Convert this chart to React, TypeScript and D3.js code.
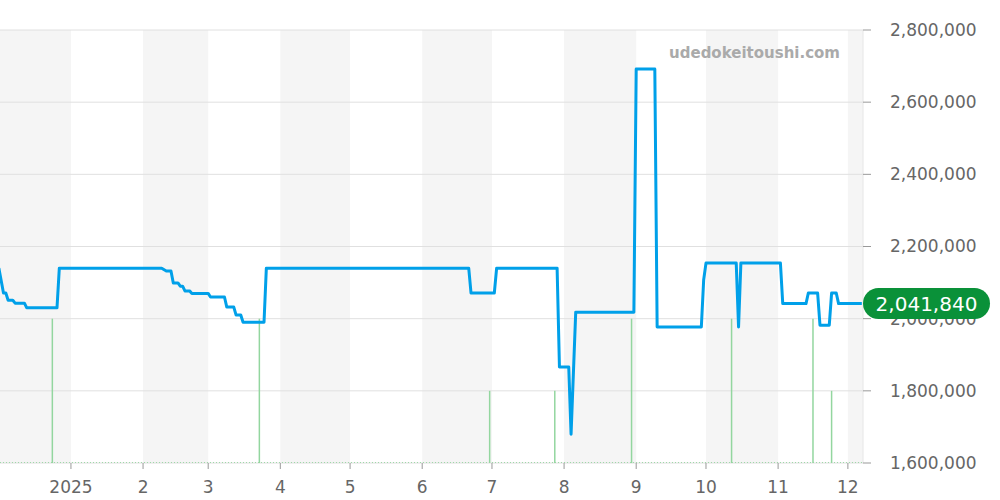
import React from 'react';
import * as d3 from 'd3';

// price history (date, yen)
const priceDates = [
  '2024-12-01', '2024-12-03', '2024-12-04', '2024-12-05', '2024-12-07', '2024-12-08',
  '2024-12-12', '2024-12-13', '2024-12-26', '2024-12-27', '2025-02-09', '2025-02-11',
  '2025-02-13', '2025-02-14', '2025-02-16', '2025-02-17', '2025-02-18', '2025-02-19',
  '2025-02-21', '2025-02-22', '2025-03-01', '2025-03-02', '2025-03-08', '2025-03-09',
  '2025-03-12', '2025-03-13', '2025-03-15', '2025-03-16', '2025-03-25', '2025-03-26',
  '2025-06-21', '2025-06-22', '2025-07-02', '2025-07-03', '2025-07-29', '2025-07-30',
  '2025-08-03', '2025-08-04', '2025-08-06', '2025-08-31', '2025-09-01', '2025-09-09',
  '2025-09-10', '2025-09-29', '2025-09-30', '2025-10-01', '2025-10-14', '2025-10-15',
  '2025-10-16', '2025-11-02', '2025-11-03', '2025-11-13', '2025-11-14', '2025-11-18',
  '2025-11-19', '2025-11-23', '2025-11-24', '2025-11-26', '2025-11-27', '2025-12-07',
];
const priceValues = [
  2140000, 2071000, 2071000, 2051000, 2051000, 2043000,
  2043000, 2030000, 2030000, 2140000, 2140000, 2132000,
  2132000, 2099000, 2099000, 2090000, 2090000, 2077000,
  2077000, 2070000, 2070000, 2060000, 2060000, 2032000,
  2032000, 2010000, 2010000, 1990000, 1990000, 2140000,
  2140000, 2071000, 2071000, 2140000, 2140000, 1866000,
  1866000, 1680000, 2018000, 2018000, 2692000, 2692000,
  1977000, 1977000, 2107000, 2154000, 2154000, 1977000,
  2154000, 2154000, 2041840, 2041840, 2071000, 2071000,
  1982000, 1982000, 2071000, 2071000, 2041840, 2041840,
];

// number of sales per day
const saleDates = [
  '2024-12-24', '2025-03-23', '2025-06-30', '2025-07-28',
  '2025-08-30', '2025-10-12', '2025-11-16', '2025-11-24',
];
const saleCounts = [2, 2, 1, 1, 2, 2, 2, 1];

const yTicks = [1600000, 1800000, 2000000, 2200000, 2400000, 2600000, 2800000];
const monthLabels = ['2025', '2', '3', '4', '5', '6', '7', '8', '9', '10', '11', '12'];
const latestPrice = 2041840;

const W = 1000;
const H = 500;
const plotRight = 863;
const plotTop = 30;
const plotBottom = 463;
const font = '"DejaVu Sans", sans-serif';

const parse = d3.timeParse('%Y-%m-%d');

export default function App() {
  const x = d3
    .scaleTime()
    .domain([new Date(2024, 11, 1, 12), new Date(2025, 11, 7, 12)])
    .range([0, plotRight]);
  const y = d3.scaleLinear().domain([1600000, 2800000]).range([plotBottom, plotTop]);
  const vol = d3.scaleLinear().domain([0, 6]).range([plotBottom, plotTop]);

  const points = priceDates.map((d, i) => ({ date: parse(d)!, value: priceValues[i] }));
  const line = d3
    .line<{ date: Date; value: number }>()
    .x(d => x(d.date))
    .y(d => y(d.value));

  // month bands: Dec 2024 .. Dec 2025
  const months = d3.timeMonth.range(new Date(2024, 11, 1), new Date(2025, 11, 2));
  const ticks = months.slice(1);

  return (
    <svg
      width={W}
      height={H}
      style={{ position: 'absolute', left: 0, top: 0, fontFamily: font }}
    >
      <defs>
        <clipPath id="plot">
          <rect x={0} y={plotTop} width={plotRight} height={plotBottom - plotTop} />
        </clipPath>
      </defs>

      {/* alternating month bands */}
      {months.map((m, i) =>
        i % 2 === 0 ? (
          <rect
            key={i}
            x={Math.max(0, x(m))}
            y={plotTop}
            width={Math.min(x(d3.timeMonth.offset(m, 1)), plotRight) - Math.max(0, x(m))}
            height={plotBottom - plotTop}
            fill="#f5f5f5"
          />
        ) : null
      )}

      {/* grid */}
      {yTicks.map(t => (
        <line key={t} x1={0} x2={plotRight} y1={y(t)} y2={y(t)} stroke="#e0e0e0" strokeWidth={1} />
      ))}
      <line x1={plotRight} x2={plotRight} y1={plotTop} y2={plotBottom} stroke="#e6e6e6" />

      {/* y axis ticks and labels */}
      {yTicks.map(t => (
        <g key={t}>
          <line x1={plotRight} x2={plotRight + 8} y1={y(t)} y2={y(t)} stroke="#999" />
          <text x={890} y={y(t)} dy="0.35em" fontSize={17} fill="#666">
            {d3.format(',')(t)}
          </text>
        </g>
      ))}

      {/* x axis ticks and labels */}
      {ticks.map((m, i) => (
        <g key={i}>
          <line x1={x(m)} x2={x(m)} y1={plotBottom} y2={plotBottom + 6} stroke="#999" />
          <text x={x(m)} y={487} dy="0.35em" fontSize={17} fill="#666" textAnchor="middle">
            {monthLabels[i]}
          </text>
        </g>
      ))}

      {/* sales volume */}
      <line
        x1={0}
        x2={plotRight}
        y1={plotBottom - 0.5}
        y2={plotBottom - 0.5}
        stroke="#9fd8a8"
        strokeDasharray="1,2"
      />
      {saleDates.map((d, i) => (
        <line
          key={d}
          x1={x(parse(d)!)}
          x2={x(parse(d)!)}
          y1={plotBottom}
          y2={vol(saleCounts[i])}
          stroke="#93d69f"
          strokeWidth={1.5}
        />
      ))}

      {/* watermark */}
      <text x={840} y={58} fontSize={15} fontWeight="bold" fill="#aaaaaa" textAnchor="end">
        udedokeitoushi.com
      </text>

      {/* price line */}
      <path
        d={line(points) || ''}
        fill="none"
        stroke="#00a0e9"
        strokeWidth={3}
        strokeLinejoin="round"
        clipPath="url(#plot)"
      />

      {/* latest price badge */}
      <rect x={863} y={y(latestPrice) - 15.5} width={127} height={31} rx={15.5} fill="#0a9139" />
      <text
        x={926.5}
        y={y(latestPrice)}
        dy="0.36em"
        fontSize={20}
        fill="#fff"
        textAnchor="middle"
      >
        {d3.format(',')(latestPrice)}
      </text>
    </svg>
  );
}
